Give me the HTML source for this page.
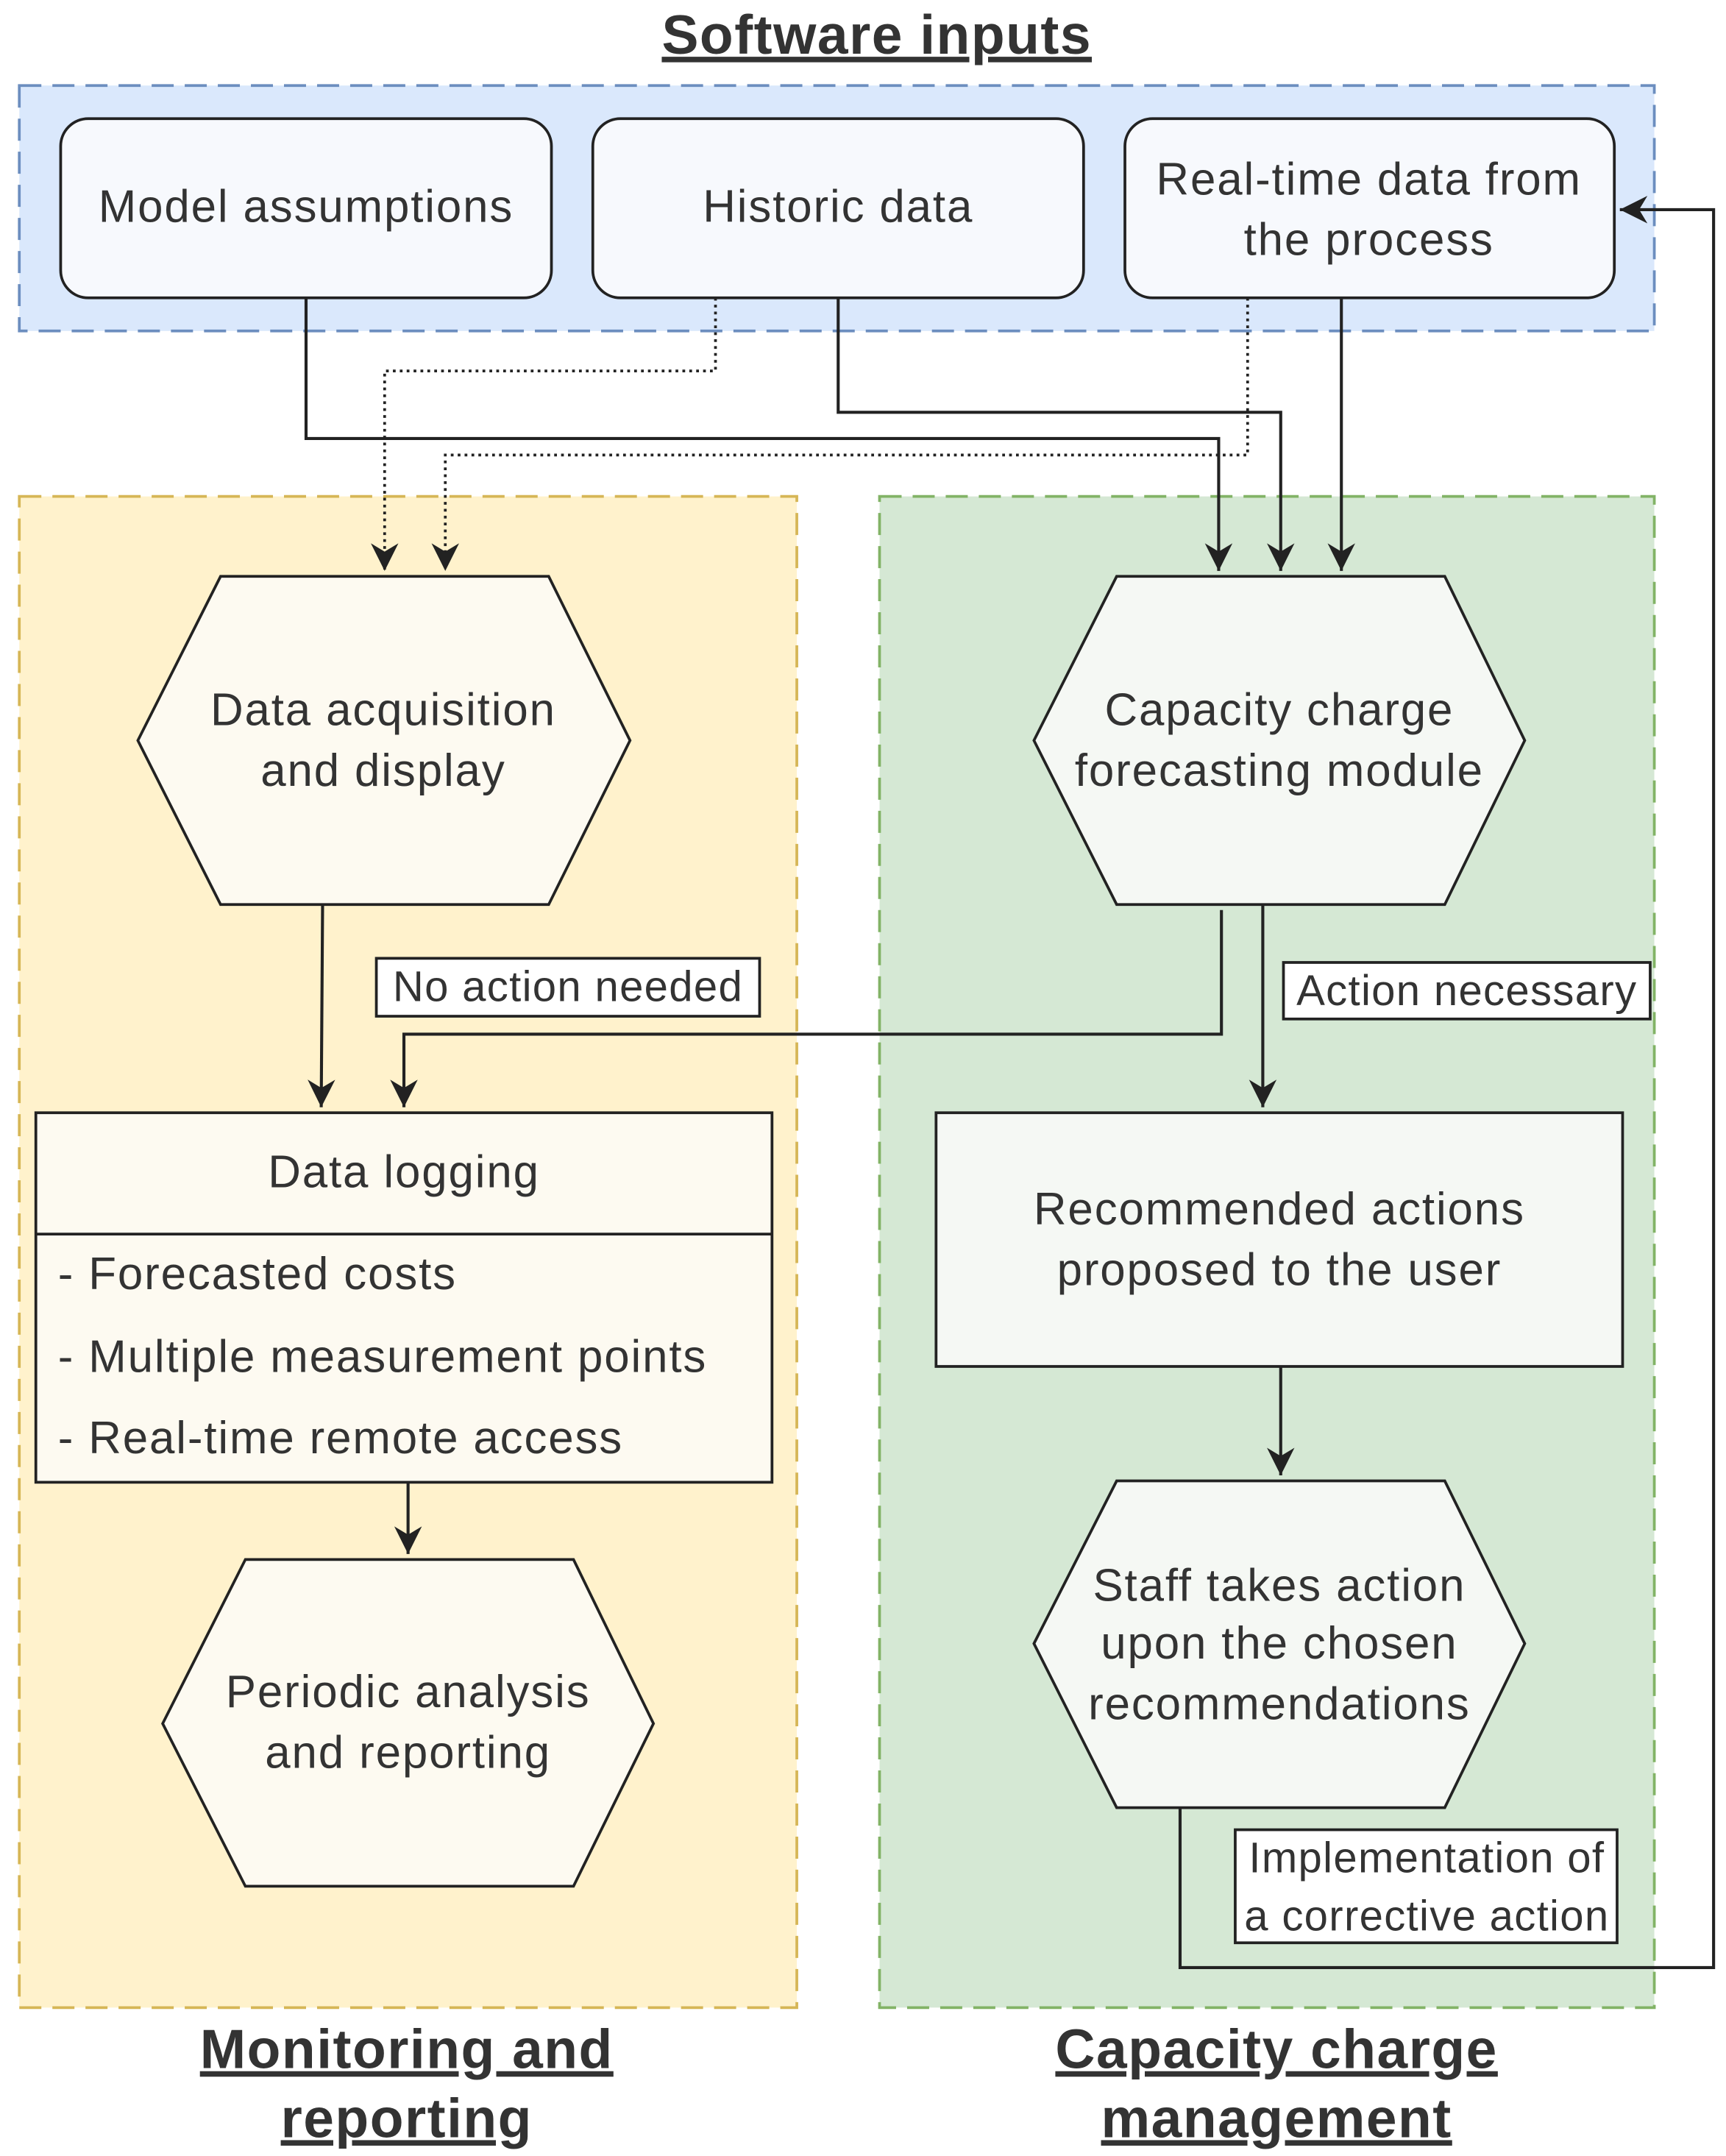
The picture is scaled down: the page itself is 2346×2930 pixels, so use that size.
<!DOCTYPE html>
<html><head><meta charset="utf-8"><style>html,body{margin:0;padding:0;background:#fff}svg{display:block}</style></head>
<body>
<svg width="2346" height="2930" viewBox="0 0 1252 1563.6" xmlns="http://www.w3.org/2000/svg" font-family="Liberation Sans, sans-serif" fill="none">
<defs>
<marker id="b" markerWidth="22" markerHeight="22" refX="20" refY="11" orient="auto" markerUnits="userSpaceOnUse"><path d="M0,1 L20,11 L0,21 L6,11 Z" fill="#222"/></marker></defs>
<rect x="14" y="62" width="1186" height="178" fill="#dae8fc" stroke="#6c8ebf" stroke-width="2" stroke-dasharray="16,8"/>
<rect x="14" y="360" width="564" height="1096" fill="#fff2cc" stroke="#d6b656" stroke-width="2" stroke-dasharray="16,8"/>
<rect x="638" y="360" width="562" height="1096" fill="#d5e8d4" stroke="#82b366" stroke-width="2" stroke-dasharray="16,8"/>
<g stroke="#222" stroke-width="2" fill="#f7f9fd">
<rect x="44" y="86" width="356" height="130" rx="20"/>
<rect x="430" y="86" width="356" height="130" rx="20"/>
<rect x="816" y="86" width="355" height="130" rx="20"/>
</g>
<g stroke="#222" stroke-width="2" fill="#fdfaf1">
<polygon points="100,537 160,418 398,418 457,537 398,656 160,656"/>
<polygon points="118,1250 178,1131 416,1131 474,1250 416,1368 178,1368"/>
<rect x="26" y="807" width="534" height="268"/>
<line x1="26" y1="895" x2="560" y2="895"/>
</g>
<g stroke="#222" stroke-width="2" fill="#f5f8f4">
<polygon points="750,537 810,418 1048,418 1106,537 1048,656 810,656"/>
<polygon points="750,1192 810,1074 1048,1074 1106,1192 1048,1311 810,1311"/>
<rect x="679" y="807" width="498" height="184"/>
</g>
<g stroke="#222" stroke-width="2.2" fill="none">
<polyline points="222,216 222,318 884,318 884,414" marker-end="url(#b)"/>
<polyline points="608,216 608,299 929,299 929,414" marker-end="url(#b)"/>
<polyline points="973,216 973,414" marker-end="url(#b)"/>
<polyline points="234,656 233,803" marker-end="url(#b)"/>
<polyline points="886,660 886,750 293,750 293,803" marker-end="url(#b)"/>
<polyline points="916,656 916,803" marker-end="url(#b)"/>
<polyline points="929,991 929,1070" marker-end="url(#b)"/>
<polyline points="296,1075 296,1127" marker-end="url(#b)"/>
<polyline points="856,1311 856,1427 1243,1427 1243,152 1175,152" marker-end="url(#b)"/>
</g>
<g stroke="#222" stroke-width="2" stroke-dasharray="2,3" fill="none">
<polyline points="519,216 519,269 279,269 279,414" marker-end="url(#b)"/>
<polyline points="905,216 905,330 323,330 323,414" marker-end="url(#b)"/>
</g>
<g stroke="#222" stroke-width="2" fill="#fff">
<rect x="273" y="695" width="278" height="42"/>
<rect x="931" y="698" width="266" height="41"/>
<rect x="896" y="1327" width="277" height="82"/>
</g>
<g fill="#333" font-size="33" letter-spacing="1" text-anchor="middle">
<text x="222" y="161">Model assumptions</text>
<text x="608" y="161">Historic data</text>
<text x="993" y="141">Real-time data from</text>
<text x="993" y="185">the process</text>
<text x="278" y="526">Data acquisition</text>
<text x="278" y="570">and display</text>
<text x="928" y="526">Capacity charge</text>
<text x="928" y="570">forecasting module</text>
<text x="293" y="861">Data logging</text>
<text x="928" y="888">Recommended actions</text>
<text x="928" y="932">proposed to the user</text>
<text x="928" y="1161">Staff takes action</text>
<text x="928" y="1203">upon the chosen</text>
<text x="928" y="1247">recommendations</text>
<text x="296" y="1238">Periodic analysis</text>
<text x="296" y="1282">and reporting</text>
</g>
<g fill="#333" font-size="33" letter-spacing="1">
<text x="42" y="935">- Forecasted costs</text>
<text x="42" y="995">- Multiple measurement points</text>
<text x="42" y="1054">- Real-time remote access</text>
</g>
<g fill="#333" font-size="31" letter-spacing="0.7" text-anchor="middle">
<text x="412" y="726">No action needed</text>
<text x="1064" y="729">Action necessary</text>
<text x="1035" y="1358">Implementation of</text>
<text x="1035" y="1400">a corrective action</text>
</g>
<g fill="#333" font-size="40" letter-spacing="0.8" font-weight="bold" text-anchor="middle" text-decoration="underline">
<text x="636" y="39">Software inputs</text>
<text x="295" y="1500">Monitoring and</text>
<text x="295" y="1550">reporting</text>
<text x="926" y="1500">Capacity charge</text>
<text x="926" y="1550">management</text>
</g>
</svg>
</body></html>
